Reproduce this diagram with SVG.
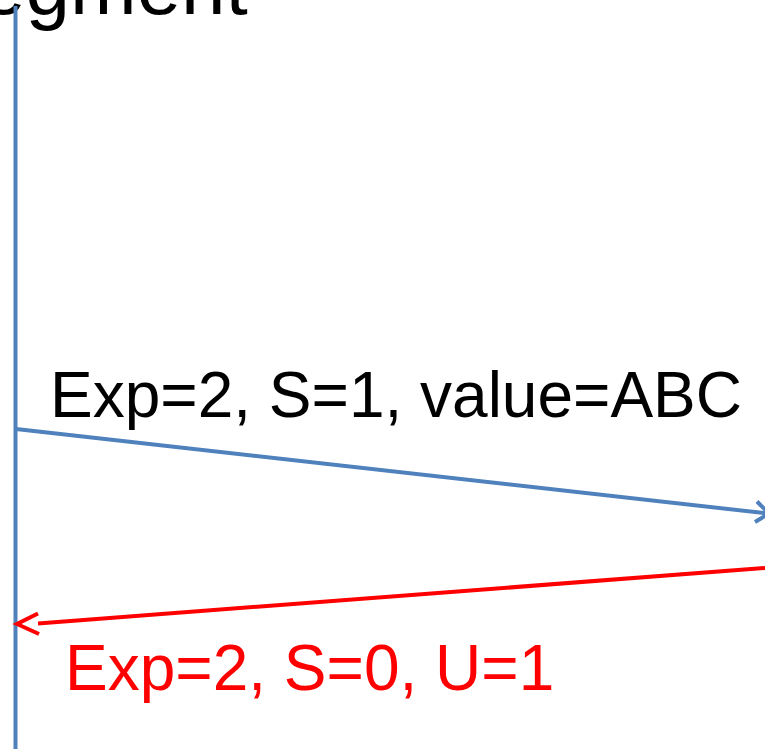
<svg xmlns="http://www.w3.org/2000/svg" width="765" height="749" viewBox="0 0 765 749">
<style>
.t{font-family:"Liberation Sans",Arial,sans-serif;font-size:64px}
.blue{stroke:#4F81BD;stroke-width:4;fill:none}
.red{stroke:#FF0000;stroke-width:4;fill:none}
</style>
<rect width="765" height="749" fill="#FFFFFF"/>
<g id="title"><text class="t" x="-19" y="14" style="font-size:80px" fill="#000">egment</text></g>
<g id="lifeline"><line class="blue" x1="15.5" y1="6" x2="15.5" y2="749"/></g>
<g id="connectors">
<line class="blue" x1="16" y1="429" x2="768" y2="513.5"/>
<polyline class="blue" points="757,501.5 769,513.5 755,522"/>
<line class="red" x1="765" y1="568" x2="38" y2="623.5"/>
<polyline class="red" points="38,613.5 17,624 39,634"/>
</g>
<g id="label1"><text class="t" x="50" y="417" fill="#000">Exp=2, S=1, value=ABC</text></g>
<g id="label2"><text class="t" x="65" y="690" fill="#FF0000">Exp=2, S=0, U=1</text></g>
</svg>
